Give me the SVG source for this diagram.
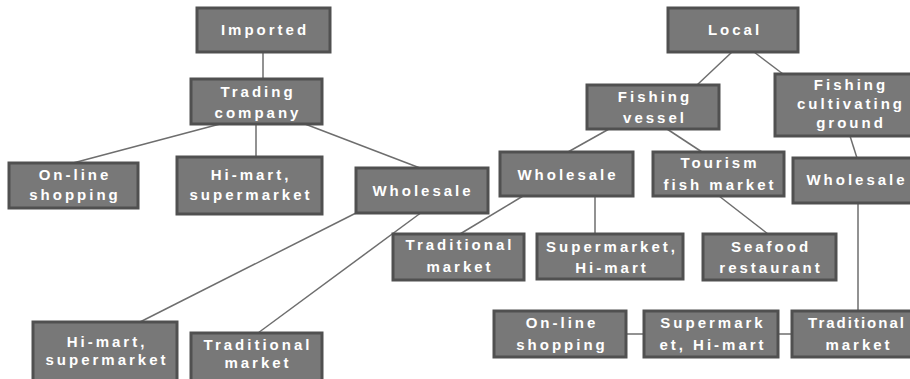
<svg xmlns="http://www.w3.org/2000/svg" width="910" height="379" viewBox="0 0 910 379">
<style>
.b{fill:#787878;stroke:#505050;stroke-width:3}
.t{fill:#ffffff;font-family:"Liberation Sans",Arial,sans-serif;font-weight:bold;font-size:15px;letter-spacing:3px;text-anchor:middle}
.n{letter-spacing:2px}
.c{stroke:#6e6e6e;stroke-width:1.5;fill:none}
</style>
<rect width="910" height="379" fill="#ffffff"/>
<g id="connectors">
<line class="c" x1="263" y1="52" x2="263" y2="79"/>
<line class="c" x1="220" y1="124" x2="73" y2="163"/>
<line class="c" x1="256" y1="124" x2="256" y2="157"/>
<line class="c" x1="305" y1="124" x2="420" y2="168"/>
<line class="c" x1="356" y1="213" x2="140" y2="322"/>
<line class="c" x1="422" y1="212" x2="258" y2="333"/>
<line class="c" x1="732" y1="52" x2="697" y2="85"/>
<line class="c" x1="754" y1="52" x2="783" y2="74"/>
<line class="c" x1="609" y1="129" x2="568" y2="152"/>
<line class="c" x1="667" y1="129" x2="702" y2="152"/>
<line class="c" x1="850" y1="136" x2="857" y2="158"/>
<line class="c" x1="523" y1="196" x2="460" y2="234"/>
<line class="c" x1="595" y1="196" x2="595" y2="234"/>
<line class="c" x1="719" y1="196" x2="768" y2="234"/>
<line class="c" x1="858" y1="203" x2="858" y2="311"/>
<line class="c" x1="626" y1="334" x2="644" y2="334"/>
<line class="c" x1="778" y1="334" x2="792" y2="334"/>
</g>
<g id="imported"><rect class="b" x="197" y="8" width="133" height="44"/><text class="t" x="265" y="35">Imported</text></g>
<g id="trading"><rect class="b" x="191" y="79" width="131" height="45"/><text class="t" x="258" y="97">Trading</text><text class="t" x="258" y="118">company</text></g>
<g id="online1"><rect class="b" x="9" y="163" width="129" height="45"/><text class="t" x="75" y="180">On-line</text><text class="t" x="75" y="200">shopping</text></g>
<g id="himart1"><rect class="b" x="177" y="157" width="145" height="57"/><text class="t" x="251" y="180">Hi-mart,</text><text class="t" x="251" y="200">supermarket</text></g>
<g id="wholesale1"><rect class="b" x="356" y="168" width="132" height="45"/><text class="t" x="423" y="196">Wholesale</text></g>
<g id="himart2"><rect class="b" x="33" y="322" width="144" height="60"/><text class="t" x="107" y="347">Hi-mart,</text><text class="t" x="107" y="365">supermarket</text></g>
<g id="trad1"><rect class="b" x="191" y="333" width="131" height="50"/><text class="t" x="258" y="350">Traditional</text><text class="t" x="258" y="368">market</text></g>
<g id="local"><rect class="b" x="668" y="8" width="130" height="44"/><text class="t" x="735" y="35">Local</text></g>
<g id="fvessel"><rect class="b" x="587" y="85" width="132" height="44"/><text class="t" x="655" y="102">Fishing</text><text class="t" x="655" y="123">vessel</text></g>
<g id="fcg"><rect class="b" x="775" y="74" width="150" height="62"/><text class="t" x="851" y="90">Fishing</text><text class="t" x="851" y="109">cultivating</text><text class="t" x="851" y="128">ground</text></g>
<g id="wholesale2"><rect class="b" x="500" y="152" width="133" height="44"/><text class="t" x="568" y="180">Wholesale</text></g>
<g id="tourism"><rect class="b" x="653" y="152" width="131" height="44"/><text class="t" x="720" y="168">Tourism</text><text class="t" x="720" y="190">fish market</text></g>
<g id="wholesale3"><rect class="b" x="793" y="158" width="130" height="45"/><text class="t" x="857" y="185">Wholesale</text></g>
<g id="trad2"><rect class="b" x="393" y="234" width="131" height="46"/><text class="t" x="460" y="250">Traditional</text><text class="t" x="460" y="272">market</text></g>
<g id="smhm1"><rect class="b" x="537" y="234" width="146" height="45"/><text class="t" x="612" y="252">Supermarket,</text><text class="t" x="612" y="273">Hi-mart</text></g>
<g id="seafood"><rect class="b" x="703" y="234" width="133" height="46"/><text class="t" x="771" y="252">Seafood</text><text class="t" x="771" y="273">restaurant</text></g>
<g id="online2"><rect class="b" x="494" y="311" width="132" height="46"/><text class="t" x="562" y="328">On-line</text><text class="t" x="562" y="350">shopping</text></g>
<g id="smhm2"><rect class="b" x="644" y="311" width="134" height="46"/><text class="t" x="713" y="328">Supermark</text><text class="t" x="713" y="350">et, Hi-mart</text></g>
<g id="trad3"><rect class="b" x="792" y="311" width="135" height="46"/><text class="t n" x="857" y="328">Traditional</text><text class="t" x="859" y="350">market</text></g>
</svg>
